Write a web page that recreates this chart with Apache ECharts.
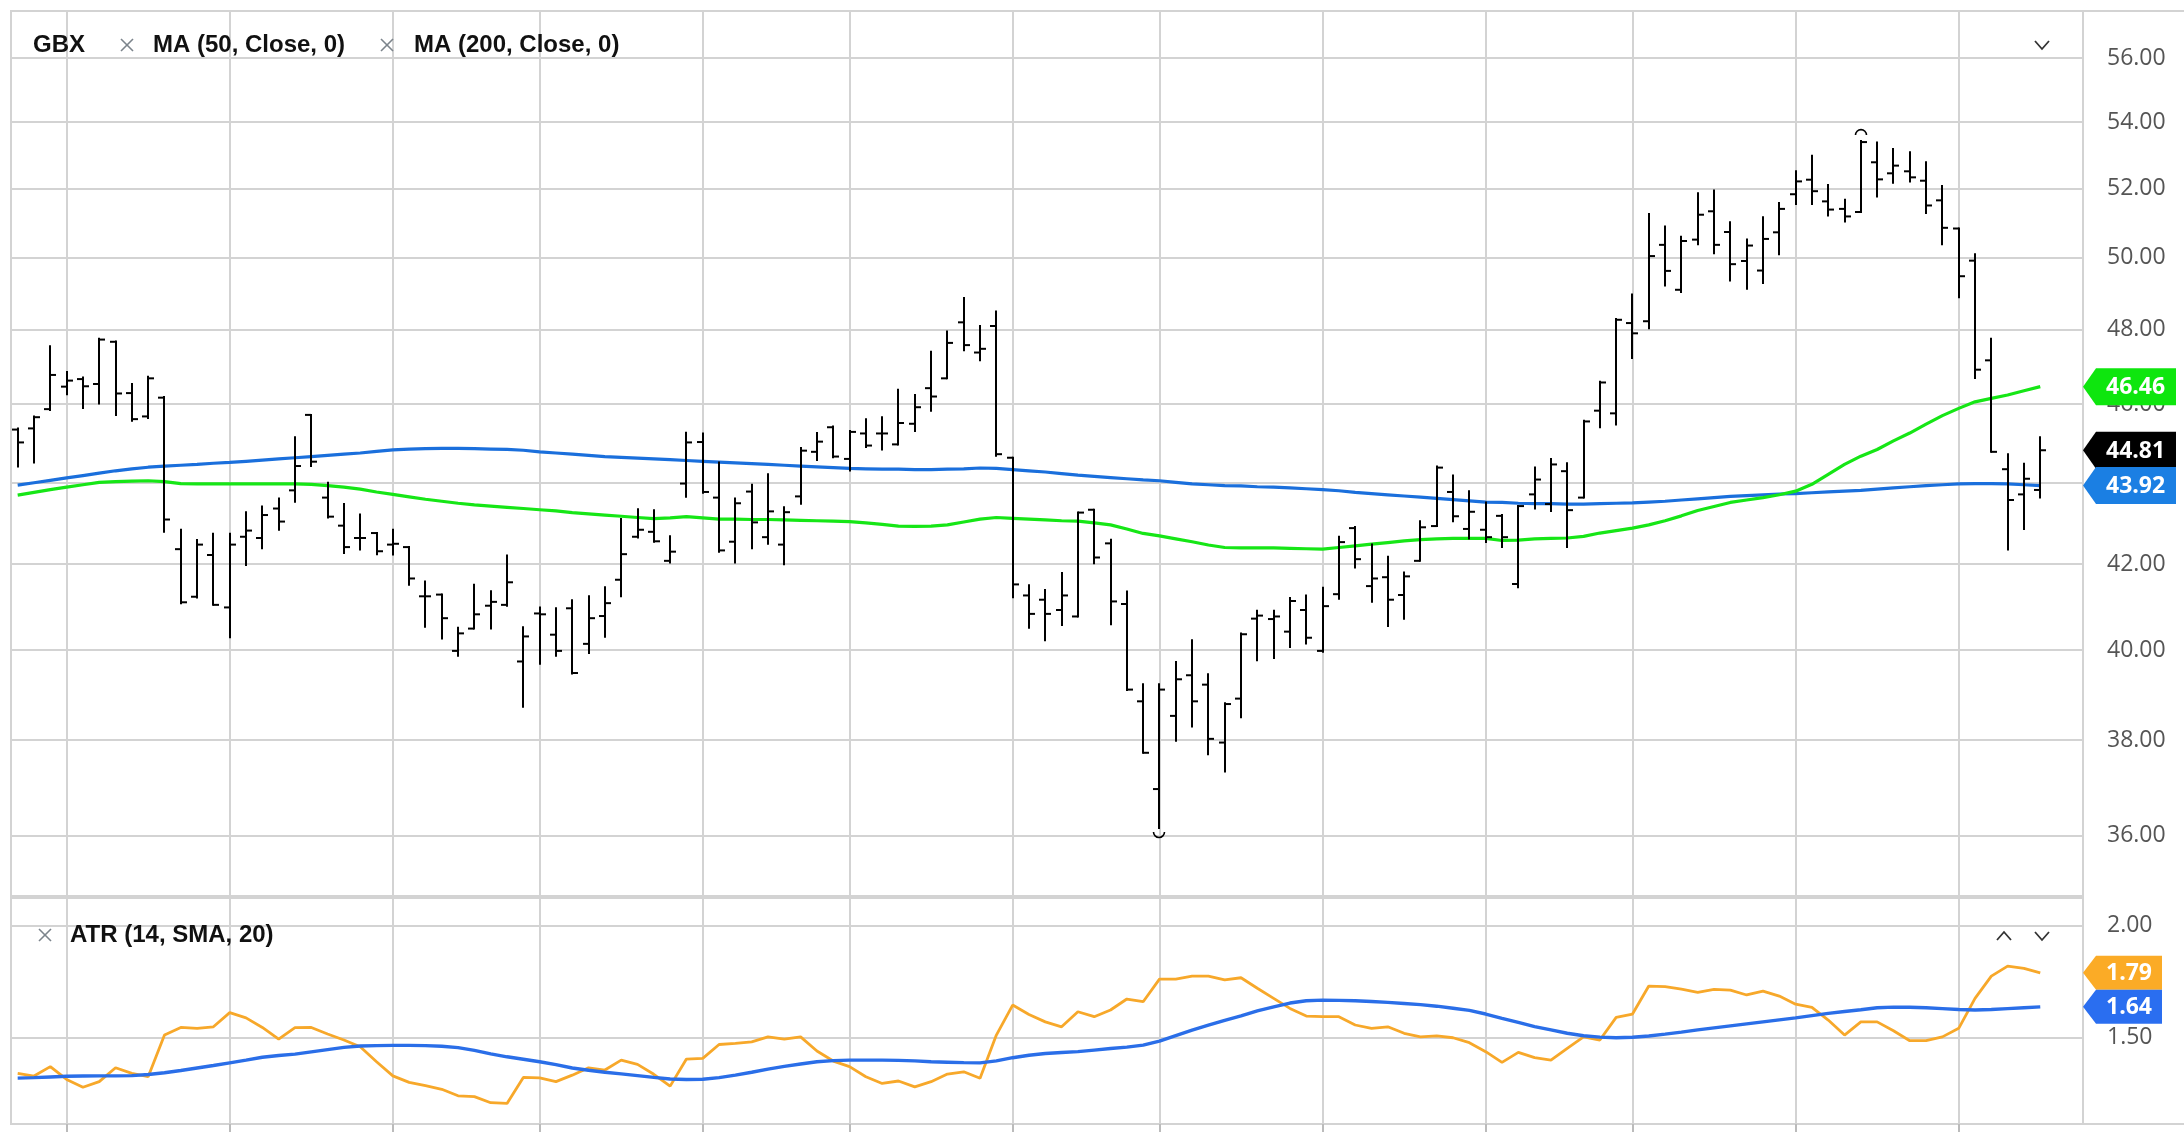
<!DOCTYPE html>
<html><head><meta charset="utf-8">
<script src="https://cdn.jsdelivr.net/npm/echarts@6/dist/echarts.min.js"></script>
<style>html,body{margin:0;padding:0;background:#fff;}#c{width:2184px;height:1132px;}</style>
</head><body><div id="c"></div>
<script>
// ---------------- data ----------------
const opens = [45.34,45.37,45.87,46.46,46.66,46.53,47.66,46.29,45.68,46.17,
 42.36,41.23,42.22,40.98,42.66,42.63,43.35,43.80,45.72,43.62,
 42.93,42.63,42.75,42.47,42.41,41.24,41.28,39.98,40.49,41.02,
 41.04,39.74,40.84,40.35,40.96,40.14,40.78,41.63,42.66,42.78,
 42.08,43.97,45.02,43.62,42.54,43.77,42.65,42.47,43.65,44.77,
 45.40,44.59,45.24,45.24,44.96,45.49,46.42,46.68,48.19,47.37,
 48.09,44.62,41.26,41.16,40.92,40.77,43.32,42.50,41.06,38.85,
 36.96,38.53,39.43,39.22,37.95,38.91,40.72,40.71,40.42,40.92,
 39.98,41.29,42.87,41.48,41.69,41.27,42.08,42.92,43.76,42.85,
 42.83,43.17,41.53,43.70,43.46,44.28,43.62,45.83,45.76,48.17,
 48.22,50.36,49.09,50.51,51.33,50.73,49.90,49.63,50.72,51.83,
 52.26,51.62,51.40,51.31,52.78,52.45,52.51,52.23,51.65,50.83,
 49.91,47.16,44.33,43.70,43.81];
const highs = [45.37,45.68,47.54,46.85,46.70,47.74,47.67,46.53,46.72,46.19,
 42.83,42.58,42.73,42.73,43.26,43.40,43.60,45.14,45.72,43.99,
 43.46,43.20,42.75,42.83,42.41,41.59,41.28,40.51,41.51,41.36,
 42.21,40.52,40.98,40.96,41.15,41.24,41.45,43.09,43.33,43.31,
 42.67,45.26,45.24,44.50,43.60,43.94,44.20,43.38,44.87,45.25,
 45.42,45.30,45.61,45.66,46.38,46.24,47.39,47.94,48.86,48.09,
 48.49,44.62,41.50,41.39,41.79,43.25,43.32,42.59,41.35,39.23,
 39.23,39.73,40.22,39.45,38.81,40.38,40.90,40.90,41.20,41.26,
 41.44,42.66,42.90,42.47,42.18,41.80,43.04,44.40,44.17,43.78,
 43.50,43.19,43.41,44.37,44.59,44.48,45.57,46.59,48.28,48.96,
 51.25,50.89,50.59,51.86,51.94,51.01,50.51,51.16,51.57,52.51,
 52.98,52.10,51.67,53.42,53.38,53.18,53.08,52.78,52.07,50.83,
 50.09,47.74,44.71,44.47,45.14];
const lows = [44.40,44.50,45.85,46.26,45.90,46.02,45.72,45.57,45.64,42.78,
 41.08,41.21,41.04,40.29,41.98,42.38,42.83,43.52,44.41,43.13,
 42.27,42.35,42.24,42.23,41.51,40.53,40.26,39.87,40.49,40.49,
 41.02,38.73,39.69,39.87,39.47,39.93,40.30,41.24,42.64,42.54,
 42.04,43.64,43.74,42.30,42.04,42.38,42.49,42.00,43.47,44.56,
 44.63,44.30,44.89,44.83,44.96,45.30,45.83,46.68,47.43,47.16,
 44.67,41.22,40.51,40.22,40.57,40.77,42.02,40.59,39.10,37.73,
 36.15,37.99,38.30,37.70,37.33,38.50,39.77,39.82,40.07,40.15,
 39.96,41.18,41.92,41.11,40.55,40.72,42.08,42.92,43.04,42.62,
 42.53,42.41,41.45,43.35,43.29,42.41,43.62,45.40,45.47,47.22,
 48.03,49.21,49.03,50.38,50.12,49.35,49.12,49.28,50.09,51.54,
 51.54,51.21,51.03,51.31,51.76,52.17,52.21,51.28,50.38,48.88,
 46.69,44.77,42.35,42.85,43.62];
const closes = [45.01,45.66,46.77,46.62,46.47,47.72,46.28,45.61,46.68,43.08,
 41.10,42.47,41.04,42.47,42.81,43.19,43.03,44.41,44.52,43.15,
 42.41,42.63,42.31,42.49,41.66,41.24,40.73,40.38,40.82,41.11,
 41.57,40.31,40.82,39.98,39.48,40.73,41.08,42.24,42.83,42.55,
 42.30,45.01,43.76,42.33,43.48,43.01,43.28,43.26,44.80,45.03,
 44.65,45.28,44.93,45.24,45.51,45.92,46.20,47.63,47.57,47.47,
 44.71,41.52,40.83,40.83,41.26,43.25,42.16,41.12,39.11,37.73,
 39.11,39.34,38.85,38.03,38.79,40.36,40.79,40.77,41.13,40.28,
 41.01,42.53,42.12,41.66,41.16,41.71,42.89,44.37,43.16,43.27,
 42.65,42.65,43.41,44.07,44.45,43.31,45.55,46.57,48.26,47.89,
 50.04,49.62,50.47,51.23,50.36,49.81,50.34,50.53,51.40,52.21,
 51.92,51.38,51.18,53.39,52.27,52.68,52.33,51.50,50.85,49.47,
 46.91,44.77,43.56,44.09,44.81];
const ma50 = [43.68,43.75,43.82,43.88,43.94,44.00,44.02,44.03,44.04,44.02,
 43.97,43.96,43.96,43.96,43.96,43.96,43.96,43.96,43.95,43.92,
 43.88,43.83,43.76,43.70,43.64,43.58,43.53,43.48,43.44,43.41,
 43.38,43.35,43.32,43.29,43.25,43.22,43.19,43.16,43.13,43.10,
 43.12,43.15,43.12,43.09,43.09,43.08,43.08,43.07,43.06,43.05,
 43.04,43.03,43.00,42.96,42.92,42.91,42.92,42.95,43.02,43.09,
 43.13,43.11,43.09,43.07,43.05,43.04,43.00,42.95,42.85,42.74,
 42.68,42.61,42.54,42.46,42.40,42.39,42.39,42.39,42.38,42.37,
 42.36,42.40,42.44,42.48,42.52,42.56,42.59,42.61,42.62,42.62,
 42.62,42.57,42.58,42.61,42.62,42.63,42.67,42.75,42.81,42.87,
 42.95,43.05,43.17,43.30,43.40,43.50,43.56,43.62,43.69,43.78,
 43.95,44.20,44.45,44.66,44.83,45.05,45.25,45.48,45.70,45.89,
 46.06,46.15,46.24,46.35,46.46];
const ma200 = [43.93,43.99,44.05,44.11,44.17,44.23,44.29,44.34,44.38,44.41,
 44.43,44.45,44.48,44.50,44.53,44.56,44.59,44.62,44.65,44.68,
 44.71,44.74,44.78,44.82,44.84,44.85,44.86,44.86,44.85,44.84,
 44.83,44.81,44.77,44.74,44.71,44.68,44.65,44.63,44.61,44.59,
 44.57,44.55,44.53,44.51,44.49,44.47,44.45,44.43,44.41,44.39,
 44.37,44.35,44.34,44.33,44.33,44.32,44.32,44.33,44.34,44.36,
 44.35,44.32,44.29,44.26,44.22,44.18,44.15,44.12,44.09,44.06,
 44.04,44.00,43.96,43.94,43.92,43.91,43.89,43.88,43.86,43.84,
 43.82,43.79,43.75,43.72,43.69,43.66,43.63,43.60,43.57,43.54,
 43.51,43.50,43.48,43.47,43.47,43.46,43.46,43.47,43.48,43.49,
 43.51,43.53,43.56,43.59,43.62,43.65,43.67,43.69,43.71,43.72,
 43.74,43.76,43.78,43.80,43.83,43.86,43.89,43.92,43.94,43.96,
 43.97,43.97,43.96,43.94,43.92];
const atr = [1.341,1.329,1.371,1.314,1.279,1.304,1.366,1.341,1.326,1.512,
 1.546,1.542,1.549,1.612,1.589,1.546,1.494,1.545,1.546,1.517,
 1.490,1.460,1.393,1.330,1.301,1.286,1.270,1.241,1.237,1.210,
 1.207,1.323,1.321,1.304,1.333,1.366,1.356,1.400,1.381,1.337,
 1.284,1.405,1.408,1.470,1.475,1.482,1.504,1.494,1.504,1.441,
 1.396,1.371,1.326,1.296,1.307,1.281,1.304,1.338,1.348,1.319,
 1.512,1.646,1.604,1.571,1.549,1.616,1.594,1.624,1.673,1.661,
 1.762,1.762,1.775,1.775,1.758,1.768,1.721,1.676,1.631,1.597,
 1.594,1.594,1.557,1.542,1.549,1.520,1.504,1.508,1.500,1.478,
 1.438,1.390,1.435,1.411,1.400,1.453,1.504,1.490,1.591,1.606,
 1.731,1.728,1.717,1.703,1.716,1.713,1.691,1.708,1.686,1.650,
 1.636,1.579,1.512,1.571,1.571,1.531,1.487,1.487,1.504,1.542,
 1.676,1.775,1.820,1.810,1.790];
const atrSma = [1.320,1.322,1.325,1.328,1.329,1.330,1.330,1.331,1.336,1.344,
 1.354,1.365,1.376,1.388,1.400,1.413,1.421,1.427,1.437,1.447,
 1.457,1.463,1.465,1.466,1.466,1.465,1.462,1.456,1.444,1.428,
 1.415,1.404,1.393,1.380,1.365,1.355,1.346,1.339,1.331,1.323,
 1.316,1.314,1.315,1.322,1.333,1.346,1.360,1.372,1.383,1.393,
 1.398,1.400,1.400,1.400,1.399,1.397,1.393,1.391,1.389,1.388,
 1.397,1.411,1.422,1.430,1.434,1.438,1.445,1.452,1.458,1.467,
 1.485,1.510,1.534,1.556,1.578,1.598,1.620,1.638,1.655,1.665,
 1.668,1.667,1.665,1.662,1.658,1.653,1.648,1.641,1.632,1.622,
 1.606,1.587,1.569,1.550,1.535,1.520,1.509,1.503,1.500,1.502,
 1.508,1.516,1.525,1.535,1.544,1.553,1.562,1.571,1.580,1.589,
 1.599,1.609,1.617,1.625,1.634,1.637,1.636,1.634,1.630,1.626,
 1.624,1.626,1.630,1.634,1.638];
const priceTicks = [36,38,40,42,44,46,48,50,52,54,56];
const atrTicks = [1.5,2.0];
const gridIdx = [3,13,23,32,42,51,61,70,80,90,99,109,119];
const legendMain = ['GBX','MA (50, Close, 0)','MA (200, Close, 0)'];
const legendAtr = 'ATR (14, SMA, 20)';

// ---------------- chart ----------------
const chart = echarts.init(document.getElementById('c'));
const N = closes.length;
const lowIdx = lows.indexOf(Math.min.apply(null, lows));
const highIdx = highs.indexOf(Math.max.apply(null, highs));
const GRID = '#d3d3d3';
const LBL = {color:'#555', fontFamily:'"Open Sans"', fontSize:23, margin:24, align:'left'};

function xAx(gi, ticks){
  return {gridIndex:gi, type:'value', min:-0.41, max:126.62,
    axisLine:{show:false}, axisLabel:{show:false},
    axisTick:{show:ticks, customValues:gridIdx, length:8, lineStyle:{color:'#bbb', width:2}},
    splitLine:{show:true, lineStyle:{color:GRID, width:2}}};
}

function renderOHLC(params, api){
  const i = api.value(0);
  const pO = api.coord([i, api.value(1)]);
  const pH = api.coord([i, api.value(2)]);
  const pL = api.coord([i, api.value(3)]);
  const pC = api.coord([i, api.value(4)]);
  const x = Math.round(pH[0]);
  const st = {stroke:'#000', lineWidth:2, fill:'none'};
  const ch = [
    {type:'line', shape:{x1:x, y1:pH[1]-1, x2:x, y2:pL[1]+1}, style:st},
    {type:'line', shape:{x1:x-6, y1:pO[1], x2:x, y2:pO[1]}, style:st},
    {type:'line', shape:{x1:x, y1:pC[1], x2:x+6, y2:pC[1]}, style:st}
  ];
  if (params.dataIndex === lowIdx) ch.push({type:'arc', shape:{cx:x, cy:pL[1]+4, r:5.5, startAngle:0, endAngle:Math.PI}, style:{stroke:'#000', lineWidth:1.6, fill:'none'}});
  if (params.dataIndex === highIdx) ch.push({type:'arc', shape:{cx:x, cy:pH[1]-6, r:5.5, startAngle:Math.PI, endAngle:2*Math.PI}, style:{stroke:'#000', lineWidth:1.6, fill:'none'}});
  return {type:'group', children:ch};
}

chart.setOption({
  animation:false,
  backgroundColor:'#fff',
  grid:[
    {left:11, top:11, width:2072, height:885, show:true, borderColor:GRID, borderWidth:2, outerBoundsMode:'none', containLabel:false},
    {left:11, top:898, width:2072, height:226, show:true, borderColor:GRID, borderWidth:2, outerBoundsMode:'none', containLabel:false}
  ],
  xAxis:[xAx(0,false), xAx(1,true)],
  yAxis:[
    {gridIndex:0, type:'log', logBase:10, min:34.78, max:57.52, position:'right',
     axisLine:{show:false}, axisTick:{show:false, customValues:priceTicks},
     axisLabel:Object.assign({customValues:priceTicks, formatter:v=>Number(v).toFixed(2)}, LBL),
     splitLine:{show:true, lineStyle:{color:GRID, width:2}}},
    {gridIndex:1, type:'value', min:1.115, max:2.124, position:'right',
     axisLine:{show:false}, axisTick:{show:false, customValues:atrTicks},
     axisLabel:Object.assign({customValues:atrTicks, formatter:v=>Number(v).toFixed(2)}, LBL),
     splitLine:{show:true, lineStyle:{color:GRID, width:2}}}
  ],
  series:[
    {type:'line', name:legendMain[2], xAxisIndex:0, yAxisIndex:0, data:ma200.map((v,i)=>[i,v]),
     symbol:'none', lineStyle:{color:'#1a6fdc', width:3.2}, z:2, silent:true},
    {type:'line', name:legendMain[1], xAxisIndex:0, yAxisIndex:0, data:ma50.map((v,i)=>[i,v]),
     symbol:'none', lineStyle:{color:'#16e616', width:3.2}, z:2, silent:true},
    {type:'custom', name:legendMain[0], xAxisIndex:0, yAxisIndex:0,
     data:opens.map((o,i)=>[i,o,highs[i],lows[i],closes[i]]),
     encode:{x:0, y:[1,2,3,4]}, renderItem:renderOHLC, z:3, silent:true},
    {type:'line', name:legendAtr, xAxisIndex:1, yAxisIndex:1, data:atr.map((v,i)=>[i,v]),
     symbol:'none', lineStyle:{color:'#f7a82a', width:2.8}, z:2, silent:true},
    {type:'line', name:'ATR SMA', xAxisIndex:1, yAxisIndex:1, data:atrSma.map((v,i)=>[i,v]),
     symbol:'none', lineStyle:{color:'#2a6ee8', width:3.4}, z:3, silent:true}
  ]
});

function cross(cx, cy){
  const s = 6, st = {stroke:'#7c848c', lineWidth:1.6};
  return [
    {type:'line', z:100, shape:{x1:cx-s, y1:cy-s, x2:cx+s, y2:cy+s}, style:st},
    {type:'line', z:100, shape:{x1:cx-s, y1:cy+s, x2:cx+s, y2:cy-s}, style:st}
  ];
}
function chev(cx, cy, up){
  const d = up ? -1 : 1;
  return {type:'polyline', z:100, shape:{points:[[cx-7, cy-4*d],[cx, cy+4*d],[cx+7, cy-4*d]]},
    style:{stroke:'#333', lineWidth:1.8, fill:'none'}};
}
function txt(x, y, s){
  return {type:'text', z:100, x:x, y:y, style:{text:s, fill:'#111', font:'bold 24px "Liberation Sans", Arial, sans-serif', verticalAlign:'middle'}};
}
function badge(axisIdx, value, color, h, right, z){
  const y = chart.convertToPixel({yAxisIndex:axisIdx}, value);
  const x0 = 2083, tip = 13;
  return [
    {type:'polygon', zlevel:1, z:z, shape:{points:[[x0,y],[x0+tip,y-h/2],[right,y-h/2],[right,y+h/2],[x0+tip,y+h/2]]}, style:{fill:color}},
    {type:'text', zlevel:1, z:z+1, x:2106, y:y+1, style:{text:value.toFixed(2), fill:'#fff', font:'bold 23px "Open Sans"', verticalAlign:'middle'}}
  ];
}

const g = [].concat(
  [{type:'line', z:50, shape:{x1:2083, y1:11, x2:2184, y2:11}, style:{stroke:GRID, lineWidth:2}},
   {type:'line', z:50, shape:{x1:2083, y1:1124, x2:2184, y2:1124}, style:{stroke:GRID, lineWidth:2}},
   txt(33, 45, legendMain[0])],
  cross(127, 45), [txt(153, 45, legendMain[1])],
  cross(387, 45), [txt(414, 45, legendMain[2]), chev(2042, 45, false)],
  cross(45, 935), [txt(70, 935, legendAtr), chev(2004, 936, true), chev(2042, 936, false)],
  badge(0, ma50[N-1], '#0ee60e', 37, 2176, 10),
  badge(0, closes[N-1], '#000000', 37, 2176, 20),
  badge(0, ma200[N-1], '#1b7fe3', 37, 2176, 30),
  badge(1, atr[N-1], '#fbab26', 34, 2162, 10),
  badge(1, atrSma[N-1], '#2a6ef0', 34, 2162, 20)
);
chart.setOption({graphic:g});
</script>
</body></html>
